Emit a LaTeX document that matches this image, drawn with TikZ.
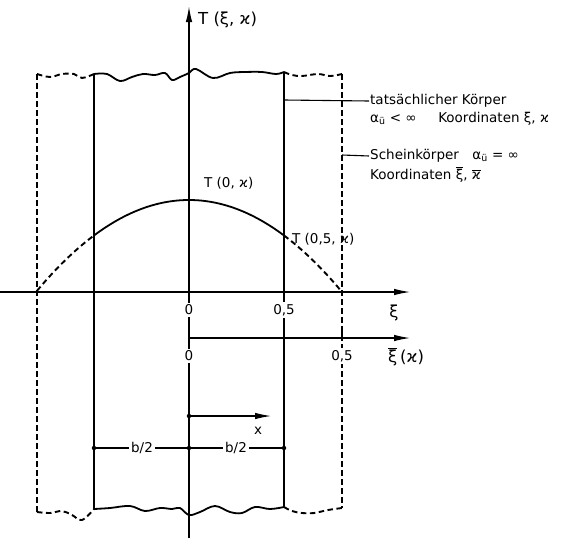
\documentclass[tikz,border=0pt]{standalone}
\usepackage{fontspec}
\setmainfont{DejaVu Sans}
\usetikzlibrary{arrows.meta, positioning, calc}
\tikzset{
  body/.style={line width=1.8pt, line join=round},
  ghost/.style={line width=1.9pt, dash pattern=on 5.5pt off 3.5pt},
  axisL/.style={line width=1.1pt},
  arr/.style={-{Latex[length=16pt,width=6.5pt]}, line width=1.1pt},
  lbl/.style={font=\fontsize{13.5}{16}\selectfont, inner sep=1pt},
  axlbl/.style={font=\fontsize{16.5}{19}\selectfont, inner sep=1pt},
  cut/.style={lbl, fill=white, inner sep=2pt},
  dimdot/.style={circle, fill, inner sep=0pt, minimum size=4.5pt},
}

\begin{document}
\begin{tikzpicture}[x=1pt, y=-1pt]
\useasboundingbox (0,0) rectangle (564,538);

% key points
\coordinate (mTop) at (189,6);
\coordinate (mBot) at (189,538);
\coordinate (O) at (189,292);
\coordinate (Ob) at (189,338);
\coordinate (xiEnd) at (410,292);
\coordinate (xibEnd) at (410,338);

% body edges (solid: real body, dashed: apparent body)
\draw[body] (94,74) -- (94,509);
\draw[body] (284,72) -- (284,507);
\draw[ghost] (37,74) -- (37,512);
\draw[ghost] (342,74) -- (342,508);

% wavy top and bottom
\draw[body] plot[smooth, tension=0.6] coordinates {(94,74) (107,74) (120,81) (132,77) (143,74) (155,75) (165,73) (172,80) (180,77) (189,73) (196,69) (213,78) (230,73) (245,72) (262,72) (276,74) (284,72)};
\draw[ghost] plot[smooth, tension=0.6] coordinates {(37,74) (50,77) (62,74) (74,74) (82,78) (94,74)};
\draw[ghost] plot[smooth, tension=0.6] coordinates {(284,72) (292,75) (302,76) (318,74) (330,76) (342,74)};
\draw[body] plot[smooth, tension=0.6] coordinates {(94,509) (110,508) (130,506) (145,511) (160,508) (172,509) (180,508) (189,515) (200,512) (215,506) (230,512) (242,513) (255,507) (270,509) (284,507)};
\draw[ghost] plot[smooth, tension=0.6] coordinates {(37,512) (50,513) (62,511) (72,515) (82,520) (94,509)};
\draw[ghost] plot[smooth, tension=0.6] coordinates {(284,507) (292,511) (302,513) (314,513) (328,510) (342,508)};

% temperature profile
\draw[body] plot[domain=94:284, samples=40, smooth] (\x, {200+39.3*((\x-189)/100)^2});
\draw[ghost] plot[domain=37:94, samples=20, smooth] (\x, {200+39.3*((\x-189)/100)^2});
\draw[ghost] plot[domain=284:342, samples=20, smooth] (\x, {200+39.3*((\x-189)/100)^2});

% axes
\draw[arr, line width=1.5pt] (mBot) -- (mTop);
\draw[arr] (0,292) -- (xiEnd);
\draw[arr] ($(Ob)+(0,-8)$) -- (Ob) -- (xibEnd);
\draw[axisL] (342,338) -- (342,328);

\node[axlbl, anchor=west] (Tlab) at (197,20) {T (ξ, ϰ)};
\node[axlbl] (xiLab) at (394,313) {ξ};
\node[axlbl, anchor=west] (xibLab) at (387,357) {$\overline{\mbox{ξ}}$\,(ϰ)};

\node[cut] (n0a) at (189,310) {0};
\node[cut] (n5a) at (284,310) {0,5};
\node[cut] (n0b) at (189,356) {0};
\node[cut] (n5b) at (342,356) {0,5};

\node[lbl, anchor=west] (T0) at (203,183) {T (0, ϰ)};
\node[lbl, anchor=west] (T5) at (291,239) {T (0,5, ϰ)};

% legend
\node[lbl, anchor=west] (real1) at (369,101) {tatsächlicher Körper};
\node[lbl, below=2pt of real1.south west, anchor=north west] (real2) {α\textsubscript{ü} < ∞\quad\; Koordinaten ξ, ϰ};
\node[lbl, anchor=west] (fake1) at (369,156) {Scheinkörper\quad α\textsubscript{ü} = ∞};
\node[lbl, below=2pt of fake1.south west, anchor=north west] (fake2) {Koordinaten $\overline{\mbox{ξ}}$, $\overline{\mbox{ϰ}}$};
\draw[axisL] (284,100) -- (real1.west);
\draw[axisL] (342,155) -- (fake1.west);

% local coordinate x
\node[dimdot] (xS) at (189,416) {};
\coordinate (xE) at (271,416);
\draw[arr] (xS.center) -- (xE);
\node[lbl] (xLab) at (258,431) {x};

% half widths
\node[dimdot] (dL) at (94,448) {};
\node[dimdot] (dM) at (189,448) {};
\node[dimdot] (dR) at (284,448) {};
\draw[axisL] (dL.center) -- (dR.center);
\node[cut] (b1) at (142,448) {b/2};
\node[cut] (b2) at (236,448) {b/2};

\end{tikzpicture}
\end{document}
